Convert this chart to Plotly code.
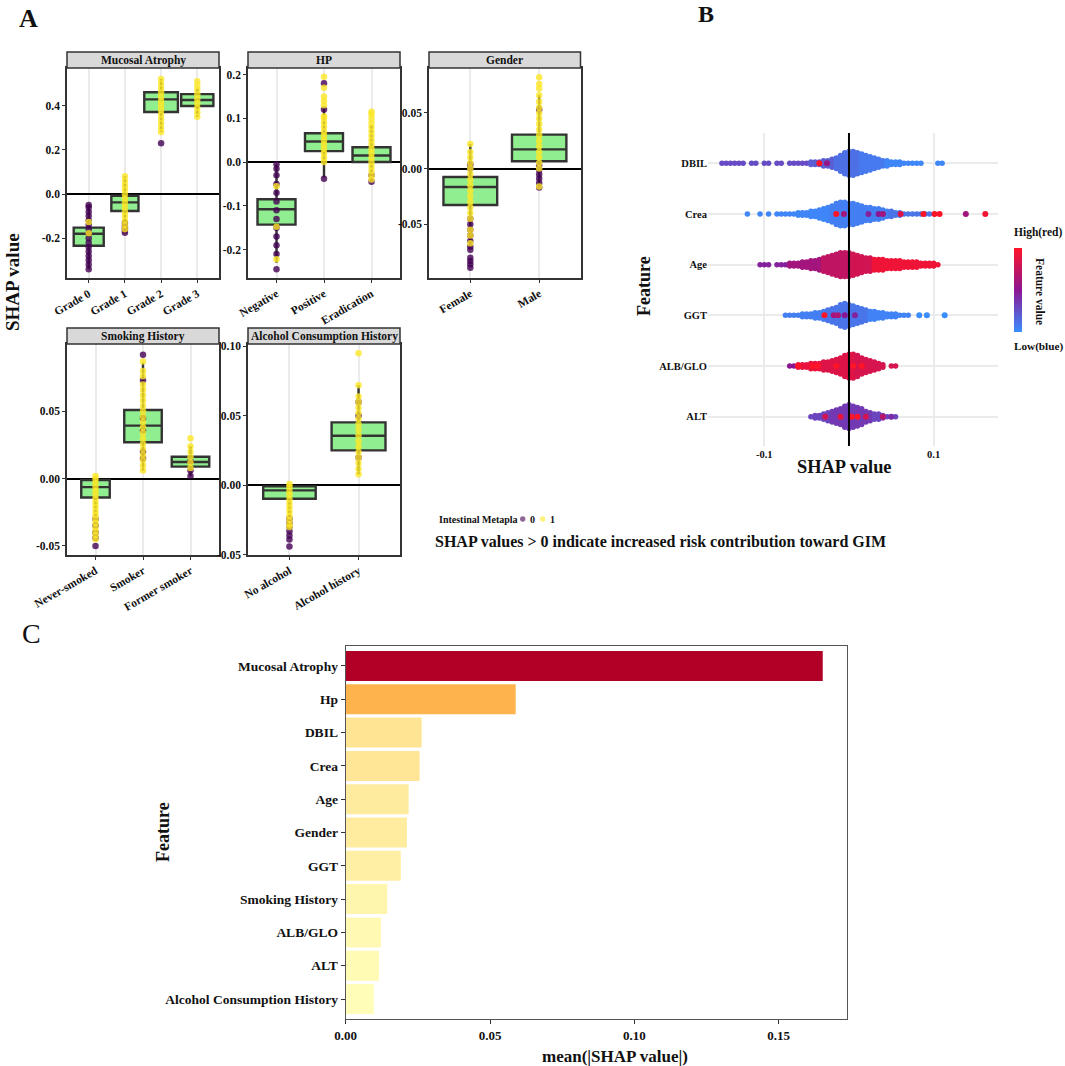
import plotly.graph_objects as go

W, H = 1065, 1066
FONT = "Liberation Serif"
INK = "#111111"
PURPLE = "#440154"
YELLOW = "#FDE725"
BOXFILL = "#90EE90"
BOXLINE = "#333333"

# ====================== DATA ======================
# ---- Panel A : SHAP value per category (box stats + points, class 0 / class 1)
ma_cats = ["Grade 0", "Grade 1", "Grade 2", "Grade 3"]
ma_q1 = [-0.234, -0.077, 0.371, 0.398]
ma_med = [-0.180, -0.038, 0.428, 0.425]
ma_q3 = [-0.152, -0.008, 0.460, 0.452]
ma_lo = [-0.340, -0.170, 0.280, 0.350]
ma_hi = [-0.050, 0.080, 0.520, 0.475]
ma_pts0 = [
    [-0.34, -0.32, -0.30, -0.28, -0.26, -0.24, -0.22, -0.20, -0.18, -0.16, -0.14, -0.12, -0.10, -0.08, -0.06, -0.05],
    [-0.175, -0.165, -0.155, -0.145, -0.13],
    [0.23],
    [],
]
ma_pts1 = [
    [-0.178, -0.127],
    [-0.16, -0.14, -0.12, -0.10, -0.08, -0.06, -0.04, -0.02, 0.0, 0.02, 0.04, 0.06, 0.08],
    [0.28, 0.30, 0.32, 0.34, 0.36, 0.38, 0.40, 0.42, 0.44, 0.46, 0.48, 0.50, 0.52],
    [0.35, 0.37, 0.39, 0.41, 0.43, 0.45, 0.47, 0.49, 0.51],
]

hp_cats = ["Negative", "Positive", "Eradication"]
hp_q1 = [-0.143, 0.025, 0.000]
hp_med = [-0.108, 0.047, 0.015]
hp_q3 = [-0.085, 0.066, 0.034]
hp_lo = [-0.230, -0.035, -0.045]
hp_hi = [-0.005, 0.125, 0.085]
hp_pts0 = [
    [-0.245, -0.21, -0.19, -0.17, -0.15, -0.13, -0.11, -0.09, -0.07, -0.05, -0.03, -0.015, -0.005],
    [-0.038, 0.12, 0.18],
    [-0.045, -0.03],
]
hp_pts1 = [
    [-0.222, -0.148, -0.055],
    [0.0, 0.01, 0.02, 0.03, 0.04, 0.05, 0.06, 0.07, 0.08, 0.09, 0.10, 0.105, 0.13, 0.14, 0.15, 0.17, 0.195],
    [-0.04, -0.03, -0.02, -0.01, 0.0, 0.01, 0.02, 0.03, 0.04, 0.05, 0.06, 0.07, 0.08, 0.09, 0.10, 0.11, 0.115],
]

g_cats = ["Female", "Male"]
g_q1 = [-0.0327, 0.0066]
g_med = [-0.0165, 0.0173]
g_q3 = [-0.0075, 0.0305]
g_lo = [-0.070, -0.017]
g_hi = [0.022, 0.066]
g_pts0 = [
    [-0.089, -0.086, -0.083, -0.080, -0.073, -0.070, -0.065, -0.060, -0.055, -0.050, -0.045, 0.0, 0.004],
    [-0.017, -0.013, -0.009, -0.005, -0.001, 0.003, 0.053],
]
g_pts1 = [
    [-0.067, -0.060, -0.055, -0.045, -0.040, -0.035, -0.030, -0.025, -0.020, -0.015, -0.010, -0.005, 0.0, 0.005, 0.010, 0.015, 0.022],
    [-0.016, 0.0, 0.005, 0.010, 0.015, 0.020, 0.025, 0.030, 0.035, 0.040, 0.045, 0.050, 0.055, 0.060, 0.066, 0.072, 0.076, 0.082],
]

s_cats = ["Never-smoked", "Smoker", "Former smoker"]
s_q1 = [-0.014, 0.027, 0.0089]
s_med = [-0.0063, 0.0394, 0.0124]
s_q3 = [-0.001, 0.051, 0.0163]
s_lo = [-0.033, 0.006, 0.002]
s_hi = [0.002, 0.086, 0.024]
s_pts0 = [
    [-0.050, -0.044, -0.040, -0.035, -0.030],
    [0.092, 0.073, 0.045, 0.036, 0.020, 0.015],
    [0.002, 0.006, 0.013],
]
s_pts1 = [
    [-0.045, -0.042, -0.039, -0.036, -0.033, -0.030, -0.027, -0.024, -0.021, -0.018, -0.015, -0.012, -0.009, -0.006, -0.003, 0.0, 0.002],
    [0.006, 0.010, 0.014, 0.018, 0.022, 0.026, 0.030, 0.034, 0.038, 0.042, 0.046, 0.050, 0.054, 0.058, 0.062, 0.066, 0.070, 0.076, 0.080, 0.087],
    [0.008, 0.012, 0.016, 0.020, 0.024, 0.030],
]

a_cats = ["No alcohol", "Alcohol history"]
a_q1 = [-0.0096, 0.0252]
a_med = [-0.0036, 0.0357]
a_q3 = [-0.0007, 0.0453]
a_lo = [-0.023, 0.008]
a_hi = [0.001, 0.072]
a_pts0 = [
    [-0.044, -0.039, -0.036, -0.033, -0.030, -0.027, -0.024],
    [0.020, 0.050, 0.060],
]
a_pts1 = [
    [-0.030, -0.028, -0.025, -0.022, -0.019, -0.016, -0.013, -0.010, -0.007, -0.004, -0.001, 0.001],
    [0.008, 0.012, 0.016, 0.020, 0.024, 0.028, 0.032, 0.036, 0.040, 0.044, 0.048, 0.052, 0.056, 0.060, 0.064, 0.072, 0.095],
]

# ---- Panel B : SHAP beeswarm, binned (bin width 0.005): counts and feature-value colour per bin
b_feats = ["DBIL", "Crea", "Age", "GGT", "ALB/GLO", "ALT"]
b_bin = 0.005
b_start = [-0.150, -0.120, -0.105, -0.075, -0.070, -0.045]

dbil_n = [1, 1, 1, 1, 1, 1, 0, 1, 1, 0,
          1, 1, 0, 1, 1, 0, 1, 1, 1, 1,
          1, 2, 2, 2, 3, 3, 4, 5, 7, 9,
          10, 10, 9, 8, 7, 6, 5, 4, 3, 3,
          2, 2, 2, 1, 1, 1, 1, 1, 0, 0,
          0, 1, 1]
dbil_c = [0.27, 0.27, 0.27, 0.27, 0.27, 0.27, 0.27, 0.27, 0.27, 0.27,
          0.27, 0.27, 0.27, 0.27, 0.27, 0.27, 0.27, 0.27, 0.27, 0.27,
          0.27, 0.20, 0.20, 0.20, 0.20, 0.20, 0.20, 0.12, 0.12, 0.12,
          0.12, 0.12, 0.12, 0.08, 0.08, 0.08, 0.08, 0.08, 0.08, 0.03,
          0.03, 0.03, 0.03, 0.03, 0.03, 0.03, 0.03, 0.03, 0.03, 0.03,
          0.03, 0.03, 0.03]
crea_n = [1, 0, 0, 1, 0, 1, 0, 1, 1, 1,
          1, 1, 2, 2, 2, 3, 3, 4, 5, 6,
          7, 9, 10, 10, 9, 9, 8, 7, 6, 6,
          5, 5, 4, 3, 3, 2, 2, 1, 1, 1,
          1, 1, 1, 1]
crea_c = [0.03, 0.03, 0.03, 0.03, 0.03, 0.03, 0.03, 0.03, 0.03, 0.03,
          0.03, 0.03, 0.03, 0.03, 0.03, 0.03, 0.03, 0.03, 0.03, 0.03,
          0.06, 0.06, 0.06, 0.06, 0.06, 0.06, 0.06, 0.06, 0.06, 0.06,
          0.06, 0.06, 0.06, 0.06, 0.10, 0.10, 0.10, 0.10, 0.10, 0.10,
          0.10, 0.10, 0.10, 0.10]
age_n = [1, 1, 1, 0, 1, 1, 1, 2, 2, 2,
         3, 3, 4, 4, 5, 6, 7, 8, 9, 10,
         10, 10, 9, 8, 7, 6, 6, 5, 5, 5,
         4, 4, 4, 4, 3, 3, 3, 3, 2, 2,
         2, 2, 1]
age_c = [0.45, 0.45, 0.45, 0.45, 0.45, 0.45, 0.45, 0.60, 0.60, 0.60,
         0.60, 0.60, 0.60, 0.60, 0.60, 0.72, 0.72, 0.72, 0.72, 0.72,
         0.72, 0.72, 0.80, 0.80, 0.80, 0.80, 0.80, 0.93, 0.93, 0.93,
         0.93, 0.93, 0.93, 0.93, 0.93, 0.93, 0.93, 0.93, 0.93, 0.93,
         0.93, 0.93, 0.93]
ggt_n = [1, 1, 1, 1, 2, 2, 2, 3, 3, 4,
         5, 6, 7, 9, 10, 9, 8, 7, 6, 5,
         4, 4, 3, 3, 2, 2, 2, 1, 1, 1]
ggt_c = [0.06, 0.06, 0.06, 0.06, 0.06, 0.06, 0.06, 0.06, 0.06, 0.06,
         0.10, 0.10, 0.10, 0.10, 0.10, 0.10, 0.10, 0.10, 0.10, 0.10,
         0.04, 0.04, 0.04, 0.04, 0.04, 0.04, 0.04, 0.04, 0.04, 0.04]
alb_n = [1, 1, 2, 2, 2, 3, 3, 3, 4, 4,
         5, 6, 7, 9, 10, 10, 9, 7, 6, 5,
         4, 3, 2, 0, 1, 1]
alb_c = [0.50, 0.50, 0.90, 0.90, 0.90, 0.90, 0.90, 0.90, 0.85, 0.85,
         0.85, 0.85, 0.85, 0.85, 0.85, 0.85, 0.82, 0.82, 0.82, 0.82,
         0.82, 0.82, 0.82, 0.82, 0.82, 0.82]
alt_n = [1, 2, 2, 3, 4, 5, 6, 7, 9, 10,
         9, 8, 7, 5, 4, 3, 3, 2, 1, 1,
         1]
alt_c = [0.30, 0.30, 0.30, 0.30, 0.30, 0.35, 0.35, 0.35, 0.35, 0.35,
         0.35, 0.35, 0.35, 0.35, 0.35, 0.30, 0.30, 0.30, 0.30, 0.30,
         0.30]
b_counts = [dbil_n, crea_n, age_n, ggt_n, alb_n, alt_n]
b_colors = [dbil_c, crea_c, age_c, ggt_c, alb_c, alt_c]

# individually visible points (SHAP value, feature-value colour)
dbil_hx = [-0.035, -0.026]
dbil_hc = [1.0, 0.55]
crea_hx = [-0.015, -0.006, 0.023, 0.035, 0.040, 0.061, 0.088, 0.101, 0.107, 0.138, 0.161]
crea_hc = [1.0, 0.6, 0.45, 0.5, 0.6, 0.85, 1.0, 1.0, 1.0, 0.6, 0.95]
age_hx = []
age_hc = []
ggt_hx = [0.083, 0.092, 0.113, -0.029, -0.018, -0.013, -0.005, 0.007]
ggt_hc = [0.0, 0.0, 0.0, 1.0, 0.6, 0.65, 0.5, 0.45]
alb_hx = [-0.060, -0.043, -0.037, -0.015, 0.005, 0.015]
alb_hc = [1.0, 1.0, 1.0, 1.0, 1.0, 1.0]
alt_hx = [-0.028, -0.010, 0.003, 0.010, 0.020, 0.040, 0.050]
alt_hc = [0.8, 0.9, 1.0, 1.0, 0.8, 0.7, 0.4]
b_hx = [dbil_hx, crea_hx, age_hx, ggt_hx, alb_hx, alt_hx]
b_hc = [dbil_hc, crea_hc, age_hc, ggt_hc, alb_hc, alt_hc]

# ---- Panel C : mean(|SHAP value|)
c_feats = ["Mucosal Atrophy", "Hp", "DBIL", "Crea", "Age", "Gender", "GGT",
           "Smoking History", "ALB/GLO", "ALT", "Alcohol Consumption History"]
c_vals = [0.1653, 0.0589, 0.0263, 0.0256, 0.0218, 0.0212, 0.0191, 0.0144, 0.0122, 0.0115, 0.0097]

# ====================== FIGURE ======================
B_SCALE = [[0, "#3A8DFF"], [0.5, "#8C1592"], [1, "#FF1428"]]
C_SCALE = [[0, "#FFFDB8"], [0.32, "#FEB24C"], [1, "#B10026"]]


def sfx(k):
    return "" if k == 1 else str(k)


def xdom(a, b):
    return [a / W, b / W]


def ydom(top, bottom):
    return [1 - bottom / H, 1 - top / H]


def bfont(size, bold=True, color=INK):
    return dict(family=FONT, size=size, color=color, weight="bold" if bold else "normal")


annotations, shapes = [], []


def txt(text, x, y, size, bold=True, angle=0, xanchor="center"):
    annotations.append(dict(text=text, x=x / W, y=1 - y / H, xref="paper", yref="paper",
                            showarrow=False, textangle=angle, xanchor=xanchor, yanchor="middle",
                            font=bfont(size, bold)))


fig = go.Figure()
layout = {}

facets = [
    dict(title="Mucosal Atrophy", cats=ma_cats, q1=ma_q1, med=ma_med, q3=ma_q3, lo=ma_lo, hi=ma_hi,
         p0=ma_pts0, p1=ma_pts1, bw=[0.83, 0.75, 0.93, 0.89], px=(67, 219), py=(68, 278),
         yr=[-0.38, 0.57], ticks=[-0.2, 0.0, 0.2, 0.4], dec=1),
    dict(title="HP", cats=hp_cats, q1=hp_q1, med=hp_med, q3=hp_q3, lo=hp_lo, hi=hp_hi,
         p0=hp_pts0, p1=hp_pts1, bw=[0.8, 0.8, 0.8], px=(248, 400), py=(68, 278),
         yr=[-0.265, 0.215], ticks=[-0.2, -0.1, 0.0, 0.1, 0.2], dec=1),
    dict(title="Gender", cats=g_cats, q1=g_q1, med=g_med, q3=g_q3, lo=g_lo, hi=g_hi,
         p0=g_pts0, p1=g_pts1, bw=[0.78, 0.79], px=(429, 580.5), py=(68, 278),
         yr=[-0.0983, 0.0904], ticks=[-0.05, 0.0, 0.05], dec=2),
    dict(title="Smoking History", cats=s_cats, q1=s_q1, med=s_med, q3=s_q3, lo=s_lo, hi=s_hi,
         p0=s_pts0, p1=s_pts1, bw=[0.6, 0.79, 0.79], px=(67, 219), py=(344, 555),
         yr=[-0.0567, 0.100], ticks=[-0.05, 0.0, 0.05], dec=2),
    dict(title="Alcohol Consumption History", cats=a_cats, q1=a_q1, med=a_med, q3=a_q3, lo=a_lo, hi=a_hi,
         p0=a_pts0, p1=a_pts1, bw=[0.76, 0.78], px=(248, 400), py=(344, 555),
         yr=[-0.0501, 0.1017], ticks=[-0.05, 0.0, 0.05, 0.10], dec=2),
]

for k, f in enumerate(facets, start=1):
    xa, ya = "x" + sfx(k), "y" + sfx(k)
    for i, c in enumerate(f["cats"]):
        fig.add_trace(go.Box(
            x=[c], q1=[f["q1"][i]], median=[f["med"][i]], q3=[f["q3"][i]],
            lowerfence=[f["lo"][i]], upperfence=[f["hi"][i]], width=f["bw"][i],
            fillcolor=BOXFILL, line=dict(color=BOXLINE, width=2.4), whiskerwidth=0,
            boxpoints=False, xaxis=xa, yaxis=ya, showlegend=False, hoverinfo="skip"))
    for pts, color in ((f["p0"], PURPLE), (f["p1"], YELLOW)):
        xs = [c for c, vals in zip(f["cats"], pts) for _ in vals]
        ys = [v for vals in pts for v in vals]
        fig.add_trace(go.Scatter(x=xs, y=ys, mode="markers", xaxis=xa, yaxis=ya, showlegend=False,
                                 marker=dict(color=color, size=6.5, opacity=0.8, line=dict(width=0))))
    layout["xaxis" + sfx(k)] = dict(
        domain=xdom(*f["px"]), anchor=ya, type="category", categoryorder="array",
        categoryarray=f["cats"], range=[-0.6, len(f["cats"]) - 0.4], automargin=False,
        showgrid=True, gridcolor="#EBEBEB", gridwidth=1.5, zeroline=False,
        showline=True, mirror=True, linecolor=BOXLINE, linewidth=1.5,
        ticks="outside", ticklen=3, tickcolor=BOXLINE, tickangle=-30, tickfont=bfont(11.5))
    layout["yaxis" + sfx(k)] = dict(
        domain=ydom(*f["py"]), anchor=xa, range=f["yr"], tickvals=f["ticks"], automargin=False,
        ticktext=[f"{v:.{f['dec']}f}" for v in f["ticks"]], showgrid=False,
        zeroline=True, zerolinecolor="black", zerolinewidth=1.5,
        showline=True, mirror=True, linecolor=BOXLINE, linewidth=1.5,
        ticks="outside", ticklen=3, tickcolor=BOXLINE, tickfont=bfont(11.5))
    x0, x1 = f["px"]
    top = f["py"][0]
    shapes.append(dict(type="rect", xref="paper", yref="paper", x0=x0 / W, x1=x1 / W,
                       y0=1 - top / H, y1=1 - (top - 16) / H, fillcolor="#D9D9D9",
                       line=dict(color=BOXLINE, width=1.5), layer="above"))
    txt(f["title"], (x0 + x1) / 2, top - 8, 11.5)

# ---- Panel B beeswarm
DY = 0.052
bx, by, bc = [], [], []
hx, hy, hc = [], [], []
nb = len(b_feats)
for i in range(nb):
    row = nb - 1 - i
    for j, (n, c) in enumerate(zip(b_counts[i], b_colors[i])):
        xv = round(b_start[i] + b_bin * j, 4)
        for k in range(n):
            bx.append(xv)
            by.append(row + (k - (n - 1) / 2) * DY)
            bc.append(c)
    for xv, c in zip(b_hx[i], b_hc[i]):
        hx.append(xv)
        hy.append(row)
        hc.append(c)

fig.add_trace(go.Scatter(
    x=bx, y=by, mode="markers", xaxis="x6", yaxis="y6", showlegend=False,
    marker=dict(color=bc, colorscale=B_SCALE, cmin=0, cmax=1, size=5.5, line=dict(width=0),
                showscale=True,
                colorbar=dict(thickness=8, thicknessmode="pixels", len=84, lenmode="pixels",
                              x=1014 / W, xanchor="left", y=1 - 290.3 / H, yanchor="middle",
                              xref="paper", yref="paper", showticklabels=False, ticks="",
                              outlinewidth=0, xpad=0, ypad=0))))
fig.add_trace(go.Scatter(
    x=hx, y=hy, mode="markers", xaxis="x6", yaxis="y6", showlegend=False,
    marker=dict(color=hc, colorscale=B_SCALE, cmin=0, cmax=1, size=6, line=dict(width=0),
                showscale=False)))
layout["xaxis6"] = dict(domain=xdom(708, 998), anchor="y6", range=[-0.1665, 0.176], automargin=False,
                        tickvals=[-0.1, 0.1], ticktext=["-0.1", "0.1"], showgrid=True,
                        gridcolor="#EBEBEB", gridwidth=1.5, zeroline=False, showline=False,
                        ticks="", tickfont=bfont(10.5))
layout["yaxis6"] = dict(domain=ydom(133, 446), anchor="x6", range=[-0.578, 5.598], automargin=False,
                        tickvals=list(range(nb)), ticktext=list(reversed(b_feats)),
                        showgrid=True, gridcolor="#EBEBEB", gridwidth=1.5, zeroline=False,
                        showline=False, ticks="", tickfont=bfont(10.5))
shapes.append(dict(type="line", xref="x6", yref="y6 domain", x0=0, x1=0, y0=0, y1=1,
                   line=dict(color="black", width=2), layer="above"))

# ---- Panel C bars
fig.add_trace(go.Bar(
    x=c_vals, y=c_feats, orientation="h", width=0.9, xaxis="x7", yaxis="y7", showlegend=False,
    marker=dict(color=c_vals, colorscale=C_SCALE, cmin=min(c_vals), cmax=max(c_vals),
                line=dict(width=0))))
layout["xaxis7"] = dict(domain=xdom(345.7, 846.7), anchor="y7", range=[0, 0.1736], automargin=False,
                        tickvals=[0, 0.05, 0.10, 0.15], ticktext=["0.00", "0.05", "0.10", "0.15"],
                        showline=True, mirror=True, linecolor="#555555", linewidth=1.2,
                        ticks="outside", ticklen=4, tickcolor="#333333", showgrid=False,
                        zeroline=False, tickfont=bfont(13))
layout["yaxis7"] = dict(domain=ydom(646, 1019), anchor="x7", type="category", automargin=False,
                        categoryorder="array", categoryarray=c_feats, range=[10.6, -0.6],
                        showline=True, mirror=True, linecolor="#555555", linewidth=1.2,
                        ticks="outside", ticklen=4, tickcolor="#333333", showgrid=False,
                        zeroline=False, tickfont=bfont(13.5))

# ---- Text
txt("A", 28, 19, 26)
txt("B", 706, 14, 24)
txt("C", 31, 633, 28, bold=False)
txt("SHAP value", 12, 282, 19, angle=-90)
txt("Feature", 644, 286, 18, angle=-90)
txt("SHAP value", 844, 467, 18.4)
txt("High(red)", 1038, 232, 11.5)
txt("Low(blue)", 1038, 347, 11.2)
txt("Feature value", 1040, 291, 11.5, angle=90)
txt("Intestinal Metapla", 436.7, 519, 10, xanchor="left")
txt("0", 532, 519, 10)
txt("1", 552, 519, 10)
txt("SHAP values > 0 indicate increased risk contribution toward GIM", 433, 541, 16, xanchor="left")
txt("Feature", 163, 832, 18, angle=-90)
txt("mean(|SHAP value|)", 615, 1056, 17)

for cx, col in ((522.7, PURPLE), (542.7, YELLOW)):
    r = 2.7
    shapes.append(dict(type="circle", xref="paper", yref="paper", x0=(cx - r) / W, x1=(cx + r) / W,
                       y0=1 - (519 + r) / H, y1=1 - (519 - r) / H, fillcolor=col, opacity=0.6,
                       line=dict(width=0)))

fig.update_layout(
    width=W, height=H, autosize=False, margin=dict(l=0, r=0, t=0, b=0, pad=0, autoexpand=False),
    paper_bgcolor="white", plot_bgcolor="white", boxmode="overlay",
    font=dict(family=FONT, color=INK), annotations=annotations, shapes=shapes, **layout)

fig.write_html("out.html", config={"displayModeBar": False},
               post_script="document.body.style.margin='0px';")
